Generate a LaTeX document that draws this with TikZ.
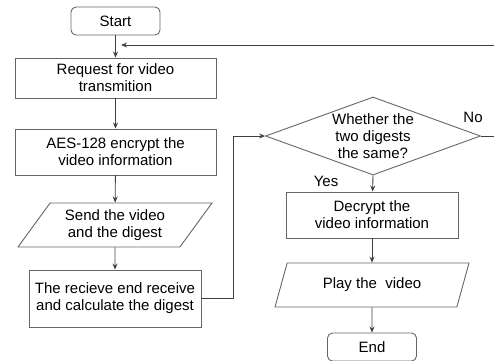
\documentclass[tikz,border=0pt]{standalone}
\usepackage{fontspec}
\setmainfont{Liberation Sans}
\usetikzlibrary{shapes.geometric, arrows.meta}

\begin{document}
\begin{tikzpicture}
    [
        x = 1pt, y = -1pt,
        every node/.append style = {font = \fontsize{15}{17}\selectfont, align = center, inner sep = 0},
        box/.style = {draw = black!60, line width = 0.9pt},
        term/.style = {box, rounded corners = 5pt, minimum width = 89pt, minimum height = 28pt},
        para/.style = {box, trapezium, trapezium stretches body, minimum height = 44pt, minimum width = 194pt},
        decision/.style = {box, diamond, minimum width = 215pt, minimum height = 78pt},
        flow/.style = {draw = black!75, line width = 0.9pt, -{Stealth[length = 6pt, width = 5pt]}}]

    \useasboundingbox (0, 0) rectangle (494, 360);

    % left column
    \node (start) [term] at (115.5, 21) {Start};
    \node (request) [box, minimum width = 201pt, minimum height = 40pt] at (115.5, 78) {Request for video\\transmition};
    \node (encrypt) [box, minimum width = 201pt, minimum height = 46pt] at (115.5, 152) {AES-128 encrypt the\\video information};
    \node (send) [para, trapezium left angle = 44, trapezium right angle = 136] at (115, 225) {Send the video\\and the digest};
    \node (receive) [box, minimum width = 172pt, minimum height = 57pt] at (115, 298.5) {The recieve end receive\\and calculate the digest};

    % right column
    \node (check) [decision] at (373, 136) {};
    \node (checktext) at (check) {Whether the\\two digests\\the same?};
    \node (decrypt) [box, minimum width = 172pt, minimum height = 46pt] at (372, 215) {Decrypt the\\video information};
    \node (play) [para, trapezium left angle = 49, trapezium right angle = 131] at (372, 285) {Play the\ \ video};
    \node (finish) [term] at (372, 347) {End};

    \coordinate (loopend) at (121, 45);

    \draw [flow] (start) -- (request);
    \draw [flow] (request) -- (encrypt);
    \draw [flow] (encrypt) -- (send);
    \draw [flow] (send) -- (receive);
    \draw [flow] (receive.east) -- ++(32, 0) |- (check.west);
    \draw [flow] (check.south) -- (decrypt);
    \draw [flow] (decrypt) -- (play);
    \draw [flow] (play) -- (finish);
    \draw [flow] (check.east) -- (494.5, 136) |- (loopend);

    \node (yes) at (326, 181) {Yes};
    \node (no) at (473, 117) {No};

\end{tikzpicture}
\end{document}
